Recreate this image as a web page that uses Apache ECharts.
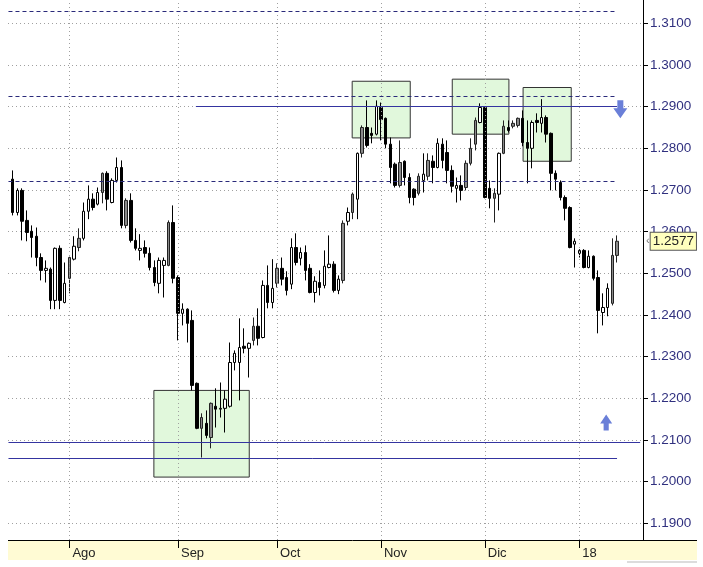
<!DOCTYPE html>
<html><head><meta charset="utf-8">
<script src="https://cdn.jsdelivr.net/npm/echarts@6/dist/echarts.min.js"></script>
<style>html,body{margin:0;padding:0;background:#fff}#c{width:703px;height:567px}</style>
</head><body><div id="c"></div>
<script>
// daily candles [open, close, low, high]
const ohlc = [
[1.2726,1.2646,1.2639,1.2747],[1.2646,1.2699,1.2639,1.2704],[1.2699,1.2625,1.2579,1.2704],[1.2627,1.2598,1.2577,1.2651],
[1.2601,1.2586,1.2538,1.2615],[1.2589,1.2538,1.2517,1.2610],[1.2538,1.2507,1.2483,1.2548],[1.2507,1.2512,1.2478,1.2531],
[1.2510,1.2435,1.2414,1.2514],[1.2435,1.2560,1.2414,1.2562],[1.2560,1.2435,1.2414,1.2567],[1.2430,1.2476,1.2428,1.2526],
[1.2488,1.2538,1.2452,1.2540],[1.2534,1.2565,1.2531,1.2589],[1.2562,1.2584,1.2553,1.2608],[1.2584,1.2649,1.2579,1.2670],
[1.2649,1.2678,1.2630,1.2711],[1.2678,1.2658,1.2651,1.2692],[1.2666,1.2694,1.2663,1.2706],[1.2694,1.2740,1.2668,1.2742],
[1.2740,1.2678,1.2651,1.2745],[1.2670,1.2723,1.2668,1.2728],[1.2723,1.2754,1.2718,1.2778],[1.2754,1.2615,1.2608,1.2771],
[1.2615,1.2675,1.2608,1.2680],[1.2675,1.2579,1.2574,1.2692],[1.2579,1.2560,1.2555,1.2608],[1.2555,1.2560,1.2531,1.2594],
[1.2562,1.2548,1.2538,1.2579],[1.2548,1.2514,1.2507,1.2562],[1.2514,1.2478,1.2469,1.2531],[1.2476,1.2531,1.2452,1.2538],
[1.2519,1.2531,1.2442,1.2538],[1.2519,1.2622,1.2517,1.2627],[1.2622,1.2488,1.2476,1.2663],[1.2490,1.2404,1.2339,1.2495],
[1.2404,1.2414,1.2375,1.2428],[1.2414,1.2380,1.2334,1.2416],[1.2387,1.2231,1.2219,1.2411],[1.2236,1.2128,1.2126,1.2238],
[1.2128,1.2154,1.2058,1.2164],[1.2140,1.2111,1.2104,1.2171],[1.2106,1.2188,1.2080,1.2190],[1.2181,1.2174,1.2130,1.2224],
[1.2174,1.2176,1.2154,1.2238],[1.2176,1.2198,1.2118,1.2219],[1.2181,1.2286,1.2178,1.2334],[1.2286,1.2308,1.2267,1.2315],
[1.2286,1.2322,1.2195,1.2392],[1.2325,1.2320,1.2308,1.2368],[1.2320,1.2332,1.2250,1.2334],[1.2339,1.2373,1.2327,1.2394],
[1.2373,1.2344,1.2327,1.2416],[1.2346,1.2471,1.2344,1.2483],[1.2471,1.2430,1.2416,1.2519],[1.2430,1.2464,1.2416,1.2534],
[1.2476,1.2512,1.2466,1.2524],[1.2512,1.2486,1.2471,1.2538],[1.2490,1.2459,1.2447,1.2505],[1.2474,1.2562,1.2462,1.2584],
[1.2562,1.2526,1.2519,1.2596],[1.2536,1.2550,1.2519,1.2562],[1.2550,1.2507,1.2483,1.2567],[1.2512,1.2454,1.2452,1.2522],
[1.2454,1.2481,1.2430,1.2493],[1.2478,1.2466,1.2447,1.2507],[1.2471,1.2517,1.2464,1.2555],[1.2514,1.2522,1.2512,1.2591],
[1.2522,1.2459,1.2454,1.2529],[1.2459,1.2486,1.2450,1.2495],[1.2483,1.2620,1.2476,1.2627],[1.2625,1.2646,1.2615,1.2658],
[1.2646,1.2690,1.2630,1.2694],[1.2678,1.2788,1.2630,1.2790],[1.2788,1.2850,1.2778,1.2855],[1.2850,1.2807,1.2802,1.2915],
[1.2836,1.2831,1.2812,1.2850],[1.2834,1.2901,1.2831,1.2915],[1.2898,1.2869,1.2819,1.2910],[1.2872,1.2810,1.2800,1.2874],
[1.2810,1.2754,1.2716,1.2826],[1.2762,1.2711,1.2706,1.2766],[1.2711,1.2766,1.2706,1.2819],[1.2769,1.2730,1.2711,1.2771],
[1.2730,1.2682,1.2668,1.2740],[1.2702,1.2682,1.2663,1.2704],[1.2692,1.2733,1.2687,1.2740],[1.2723,1.2738,1.2694,1.2788],
[1.2733,1.2771,1.2723,1.2788],[1.2769,1.2754,1.2716,1.2783],[1.2754,1.2812,1.2752,1.2824],[1.2810,1.2771,1.2752,1.2824],
[1.2790,1.2747,1.2716,1.2819],[1.2747,1.2709,1.2694,1.2759],[1.2704,1.2711,1.2670,1.2730],[1.2711,1.2699,1.2675,1.2735],
[1.2706,1.2764,1.2699,1.2771],[1.2764,1.2800,1.2759,1.2824],[1.2810,1.2867,1.2795,1.2874],[1.2862,1.2898,1.2860,1.2908],
[1.2898,1.2682,1.2680,1.2900],[1.2704,1.2680,1.2656,1.2723],[1.2680,1.2692,1.2622,1.2704],[1.2690,1.2788,1.2651,1.2790],
[1.2788,1.2853,1.2786,1.2867],[1.2850,1.2843,1.2838,1.2867],[1.2853,1.2860,1.2848,1.2867],[1.2855,1.2872,1.2850,1.2874],
[1.2872,1.2814,1.2805,1.2891],[1.2814,1.2800,1.2716,1.2867],[1.2800,1.2862,1.2752,1.2867],[1.2867,1.2862,1.2838,1.2884],
[1.2860,1.2874,1.2838,1.2918],[1.2874,1.2834,1.2814,1.2879],[1.2836,1.2740,1.2699,1.2838],[1.2740,1.2726,1.2699,1.2747],
[1.2718,1.2682,1.2675,1.2723],[1.2682,1.2656,1.2627,1.2687],[1.2658,1.2562,1.2560,1.2661],[1.2570,1.2577,1.2514,1.2584],
[1.2548,1.2555,1.2538,1.2558],[1.2555,1.2514,1.2512,1.2558],[1.2514,1.2541,1.2512,1.2555],[1.2541,1.2488,1.2483,1.2543],
[1.2490,1.2411,1.2356,1.2507],[1.2406,1.2418,1.2375,1.2452],[1.2418,1.2464,1.2397,1.2476],[1.2428,1.2543,1.2423,1.2584],
[1.2543,1.2577,1.2526,1.2591]
];
// candles drawn with grey body
const grayCandles = [12,14,19,24,33,40,42,51,56,70,72,74,82,86,88,96,97,98,102,104,106,107,127,128];
// first candle of each month and its label
const monthStarts = [12,35,56,78,100,120];
const monthLabels = ['Ago','Sep','Oct','Nov','Dic','18'];
const priceTicks = [1.19,1.20,1.21,1.22,1.23,1.24,1.25,1.26,1.27,1.28,1.29,1.30,1.31];
// drawn levels
const dashedLevels = [1.3129, 1.2925, 1.2720];
const solidLevels = [1.2900, 1.2094, 1.2057];
// highlighted zones: [first candle, last candle, top price, bottom price]
const zones = [[29.9, 50.1, 1.2219, 1.2011],[71.9, 84.2, 1.2961, 1.2825],[93.1, 105.1, 1.2966, 1.2834],[108.1, 118.3, 1.2946, 1.2769]];
const arrowDownPrice = 1.2894, arrowUpPrice = 1.2142;
const lastClose = ohlc[ohlc.length - 1][1];

const slot = i => i + 1; // candle index -> x position on axis
const FONT = "'Liberation Sans', Arial, sans-serif";
const NAVY = '#30307f';
const GRID = '#a0a0a0';

const candleData = ohlc.map((d, i) => {
  const item = { value: [slot(i), d[0], d[1], d[2], d[3]] };
  if (grayCandles.includes(i)) item.itemStyle = { color: '#8a8a8a', borderColor: '#222' };
  return item;
});

const solidSpans = [[38.8, 128], [-0.9, 132.9], [-0.9, 128]];
const markLines = [];
// month grid lines (vertical, dotted)
monthStarts.forEach(i => markLines.push({ xAxis: slot(i), lineStyle: { color: GRID, type: [1, 3], width: 1 } }));
dashedLevels.forEach(v => markLines.push([
  { coord: [slot(-0.9), v], lineStyle: { color: '#2a2a7a', type: [4, 3], width: 1 } },
  { coord: [slot(128), v] }
]));
solidLevels.forEach((v, k) => markLines.push([
  { coord: [slot(solidSpans[k][0]), v], lineStyle: { color: '#3434a0', type: 'solid', width: 1 } },
  { coord: [slot(solidSpans[k][1]), v] }
]));

const downArrow = 'path://M4,0 L10,0 L10,8 L14,8 L7,18 L0,8 L4,8 Z';
const upArrow = 'path://M7,0 L14,10 L10,10 L10,18 L4,18 L4,10 L0,10 Z';

const chart = echarts.init(document.getElementById('c'), null, { renderer: 'canvas' });
chart.setOption({
  animation: false,
  backgroundColor: '#fff',
  grid: { left: 8, right: 60, top: 0, bottom: 27, outerBoundsMode: 'none', containLabel: false },
  xAxis: {
    type: 'value', min: 0, max: 134.5,
    axisLine: { show: false, onZero: false },
    axisTick: { show: true, customValues: monthStarts.map(slot), length: 8, lineStyle: { color: '#000', width: 1 } },
    axisLabel: {
      show: true, customValues: monthStarts.map(slot),
      formatter: v => monthLabels[monthStarts.indexOf(Math.round(v) - 1)] || '',
      align: 'left', padding: [0, 0, 0, 3], margin: 7,
      color: '#222', fontSize: 13, fontFamily: FONT
    },
    splitLine: { show: false },
    minorTick: { show: false }, minorSplitLine: { show: false }
  },
  yAxis: [{
    type: 'value', position: 'right', min: 1.186, max: 1.3156,
    axisLine: { show: true, onZero: false, lineStyle: { color: '#000', width: 1 } },
    axisTick: { show: true, customValues: priceTicks, length: 5, lineStyle: { color: '#000' } },
    axisLabel: { show: true, customValues: priceTicks, formatter: v => v.toFixed(4), color: NAVY, fontSize: 13.5, fontFamily: FONT, margin: 7 },
    splitLine: { show: true, lineStyle: { color: GRID, type: [1, 3], width: 1 } }
  }, {
    type: 'value', position: 'right', min: 1.186, max: 1.3156,
    axisLine: { show: false, onZero: false }, axisTick: { show: false }, splitLine: { show: false },
    axisLabel: {
      show: true, customValues: [lastClose], margin: 3,
      formatter: v => '{a|‹}{b|' + v.toFixed(4) + '}',
      rich: {
        a: { color: '#777', fontSize: 11, fontFamily: FONT, padding: [0, 1, 0, 0] },
        b: { color: '#222', fontSize: 13.5, fontFamily: FONT, backgroundColor: '#ffffbe', borderColor: '#555', borderWidth: 1, padding: [2, 2, 1, 2] }
      }
    }
  }],
  series: [{
    type: 'candlestick',
    data: candleData,
    encode: { x: 0, y: [1, 2, 3, 4] },
    barWidth: 3,
    itemStyle: { color: '#fff', color0: '#000', borderColor: '#000', borderColor0: '#000', borderWidth: 1 },
    markArea: {
      silent: true,
      itemStyle: { color: '#e1f8dc', borderColor: '#333', borderWidth: 1 },
      label: { show: false },
      data: zones.map(z => [{ coord: [slot(z[0]), z[2]] }, { coord: [slot(z[1]), z[3]] }])
    },
    markLine: {
      silent: true, symbol: ['none', 'none'], label: { show: false },
      emphasis: { disabled: true },
      data: markLines
    },
    markPoint: {
      silent: true, label: { show: false },
      itemStyle: { color: '#6a7fd8' },
      data: [
        { coord: [slot(128.7), arrowDownPrice], symbol: downArrow, symbolSize: [14, 18] },
        { coord: [slot(125.7), arrowUpPrice], symbol: upArrow, symbolSize: [12, 16] }
      ]
    }
  }],
  graphic: [
    { type: 'rect', z: -10, silent: true, shape: { x: 8, y: 540, width: 689, height: 20 }, style: { fill: '#fffbd4' } },
    { type: 'line', z: 100, silent: true, shape: { x1: 8, y1: 540.5, x2: 697, y2: 540.5 }, style: { stroke: '#000', lineWidth: 1 } },
    { type: 'rect', z: 100, silent: true, shape: { x: 627, y: 561, width: 70, height: 2 }, style: { fill: '#dcdcdc' } }
  ]
});
</script></body></html>
